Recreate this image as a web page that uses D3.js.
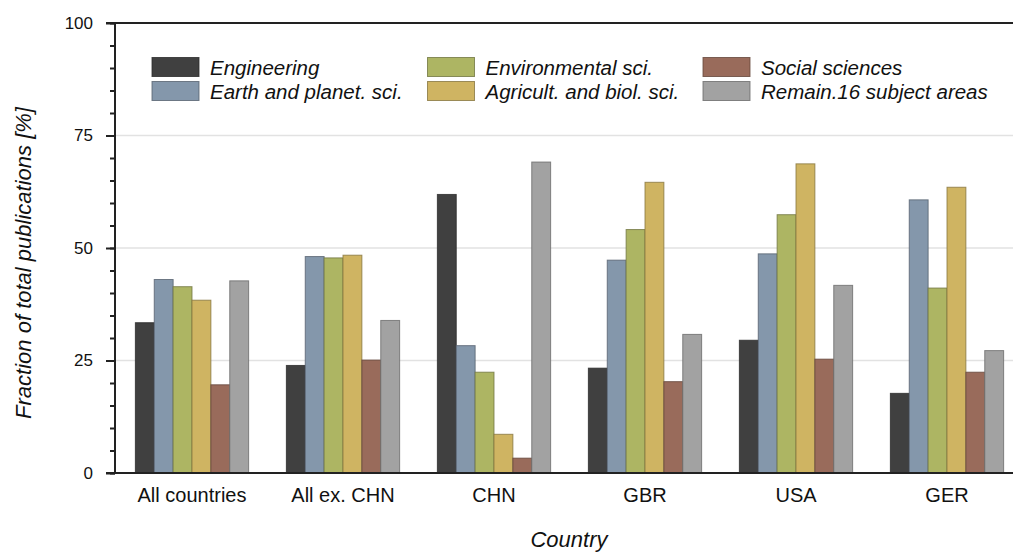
<!DOCTYPE html>
<html>
<head>
<meta charset="utf-8">
<script src="https://cdn.jsdelivr.net/npm/d3@7"></script>
<style>
  html, body { margin: 0; padding: 0; background: #fff; }
  svg { display: block; font-family: "Liberation Sans", Arial, sans-serif; }
</style>
</head>
<body>
<div id="chart"></div>
<script>
// Share of publications by subject area, per country
const countries = ['All countries', 'All ex. CHN', 'CHN', 'GBR', 'USA', 'GER'];
const subjects = ['Engineering', 'Earth and planet. sci.', 'Environmental sci.',
                  'Agricult. and biol. sci.', 'Social sciences', 'Remain.16 subject areas'];
const subjectColors = ['#404040', '#8497ab', '#adb563', '#cfb462', '#996b5b', '#a2a2a2'];

// one array per subject, in the order of countries
const engineering   = [33.4, 23.9, 61.9, 23.3, 29.5, 17.7];
const earthPlanet   = [43.0, 48.1, 28.3, 47.3, 48.7, 60.7];
const environmental = [41.4, 47.8, 22.4, 54.1, 57.4, 41.1];
const agricultBiol  = [38.4, 48.4,  8.6, 64.6, 68.7, 63.5];
const socialSci     = [19.6, 25.1,  3.3, 20.3, 25.3, 22.4];
const remaining     = [42.7, 33.9, 69.1, 30.8, 41.7, 27.2];
const seriesValues = [engineering, earthPlanet, environmental, agricultBiol, socialSci, remaining];

const yTicks = [0, 25, 50, 75, 100];

const width = 1013, height = 554;
const plotLeft = 115, plotTop = 23, plotBottom = 473;

const svg = d3.select('#chart').append('svg')
    .attr('width', width)
    .attr('height', height);

const y = d3.scaleLinear().domain([0, 100]).range([plotBottom, plotTop]);

const x = d3.scaleBand()
    .domain(countries)
    .range([plotLeft + 1.5, plotLeft + 1.5 + 906])
    .paddingInner(0.25)
    .paddingOuter(0.125);

const xSub = d3.scaleBand()
    .domain(subjects)
    .range([0, x.bandwidth()]);

const color = d3.scaleOrdinal().domain(subjects).range(subjectColors);

// light grid lines
svg.append('g')
    .selectAll('line')
    .data(yTicks.filter(t => t > 0 && t < 100))
    .join('line')
    .attr('x1', plotLeft).attr('x2', width)
    .attr('y1', d => y(d)).attr('y2', d => y(d))
    .attr('stroke', '#e2e2e2')
    .attr('stroke-width', 1.5);

// bars
const rows = [];
countries.forEach((c, i) => {
    subjects.forEach((s, j) => {
        rows.push({ country: c, subject: s, value: seriesValues[j][i] });
    });
});

svg.append('g')
    .selectAll('rect')
    .data(rows)
    .join('rect')
    .attr('x', d => x(d.country) + xSub(d.subject))
    .attr('y', d => y(d.value))
    .attr('width', xSub.bandwidth())
    .attr('height', d => y(0) - y(d.value))
    .attr('fill', d => color(d.subject))
    .attr('stroke', d => d3.color(color(d.subject)).darker(1.2))
    .attr('stroke-opacity', 0.8)
    .attr('stroke-width', 1);

// y axis: major and minor ticks
const yAxisMajor = d3.axisLeft(y).tickValues(yTicks).tickSize(9).tickPadding(13);
const yAxisMinor = d3.axisLeft(y).tickValues(d3.range(0, 101, 5)).tickSize(5).tickFormat('');

svg.append('g')
    .attr('transform', `translate(${plotLeft},0)`)
    .call(yAxisMinor)
    .call(g => g.select('.domain').remove())
    .call(g => g.selectAll('line').attr('stroke', '#222').attr('stroke-width', 2));

const yG = svg.append('g')
    .attr('transform', `translate(${plotLeft},0)`)
    .call(yAxisMajor);
yG.select('.domain').remove();
yG.selectAll('line').attr('stroke', '#222').attr('stroke-width', 2);
yG.selectAll('text')
    .attr('fill', '#111')
    .style('font-size', '17px')
    .style('font-family', '"Liberation Sans", Arial, sans-serif');

// frame: left axis line, top and bottom lines
svg.append('line')
    .attr('x1', plotLeft).attr('x2', plotLeft)
    .attr('y1', plotTop).attr('y2', plotBottom)
    .attr('stroke', '#222').attr('stroke-width', 2);
svg.append('line')
    .attr('x1', plotLeft - 9).attr('x2', width)
    .attr('y1', plotTop).attr('y2', plotTop)
    .attr('stroke', '#222').attr('stroke-width', 2);
svg.append('line')
    .attr('x1', plotLeft - 9).attr('x2', width)
    .attr('y1', plotBottom).attr('y2', plotBottom)
    .attr('stroke', '#222').attr('stroke-width', 2);

// x axis labels
const xAxis = d3.axisBottom(x).tickSize(0).tickPadding(15);
const xG = svg.append('g')
    .attr('transform', `translate(0,${plotBottom})`)
    .call(xAxis);
xG.select('.domain').remove();
xG.selectAll('text')
    .attr('fill', '#111')
    .style('font-size', '20px')
    .style('font-family', '"Liberation Sans", Arial, sans-serif');

// axis titles
svg.append('text')
    .attr('transform', 'translate(31,263) rotate(-90)')
    .attr('text-anchor', 'middle')
    .style('font-size', '22px')
    .style('font-style', 'italic')
    .attr('fill', '#111')
    .text('Fraction of total publications [%]');

svg.append('text')
    .attr('x', 569)
    .attr('y', 547)
    .attr('text-anchor', 'middle')
    .style('font-size', '22px')
    .style('font-style', 'italic')
    .attr('fill', '#111')
    .text('Country');

// legend, three columns of two
const legendCols = [152, 427.5, 703];
const legend = svg.append('g');
const items = legend.selectAll('g')
    .data(subjects)
    .join('g')
    .attr('transform', (d, i) => `translate(${legendCols[Math.floor(i / 2)]},${57.5 + (i % 2) * 24})`);

items.append('rect')
    .attr('width', 47)
    .attr('height', 19)
    .attr('fill', d => color(d))
    .attr('stroke', d => d3.color(color(d)).darker(1.2))
    .attr('stroke-opacity', 0.8);

items.append('text')
    .attr('x', 58)
    .attr('y', 17.5)
    .style('font-size', '20.5px')
    .style('font-style', 'italic')
    .attr('fill', '#111')
    .text(d => d);
</script>
</body>
</html>
